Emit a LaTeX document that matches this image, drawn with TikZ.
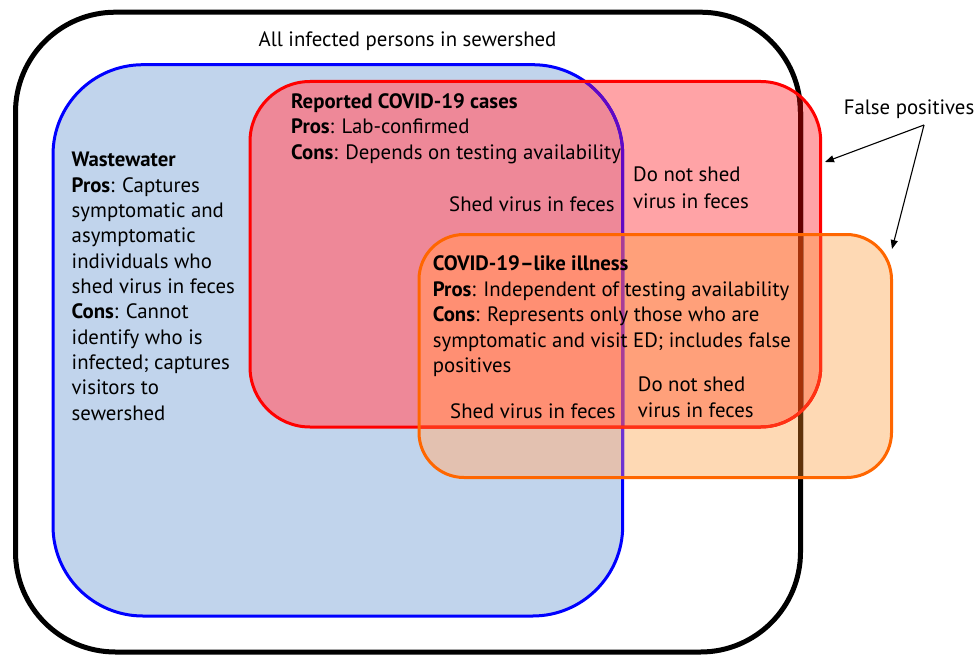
\documentclass[tikz,border=0pt]{standalone}
\usepackage{fontspec}
\setmainfont{PT Sans}
\usetikzlibrary{arrows.meta}
% region fills
\definecolor{wwblue}{RGB}{193,212,236}
\definecolor{redonly}{RGB}{255,163,166}
\definecolor{redblue}{RGB}{238,136,152}
\definecolor{oronly}{RGB}{254,217,180}
\definecolor{orblue}{RGB}{227,193,176}
\definecolor{orred}{RGB}{255,160,122}
\definecolor{orredblue}{RGB}{255,143,115}
% strokes
\definecolor{ostroke}{RGB}{255,102,0}
\definecolor{blkR}{RGB}{100,0,0}
\definecolor{blkO}{RGB}{95,50,10}
\definecolor{blkRO}{RGB}{165,50,10}
\definecolor{bluR}{RGB}{98,8,196}
\definecolor{bluO}{RGB}{110,50,210}
\definecolor{bluRO}{RGB}{168,60,150}
\definecolor{redO}{RGB}{255,50,20}
\begin{document}
\begin{tikzpicture}[x=1pt,y=-1pt,
  txt/.style={anchor=base west, inner sep=0pt, font=\fontsize{20.8}{24}\selectfont},
  obox/.style={rounded corners=100pt},
  bbox/.style={rounded corners=90pt},
  rbox/.style={rounded corners=60pt},
  gbox/.style={rounded corners=45pt},
  fparrow/.style={-{Triangle[length=9pt,width=7pt]}, line width=1.1pt}]
\useasboundingbox (0,0) rectangle (976,655);
\coordinate (oTL) at (15.5,12.2);  \coordinate (oBR) at (800.5,652);
\coordinate (bTL) at (53,64.7);    \coordinate (bBR) at (622.7,616);
\coordinate (rTL) at (250,81.5);   \coordinate (rBR) at (820.7,427);
\coordinate (gTL) at (419,234.5);  \coordinate (gBR) at (891.5,477.5);

% ---- fills ----
\fill[wwblue, bbox] (bTL) rectangle (bBR);
\fill[redonly, rbox] (rTL) rectangle (rBR);
\begin{scope}
  \clip[rbox] (rTL) rectangle (rBR);
  \fill[redblue, bbox] (bTL) rectangle (bBR);
\end{scope}
\fill[oronly, gbox] (gTL) rectangle (gBR);
\begin{scope}
  \clip[gbox] (gTL) rectangle (gBR);
  \fill[orblue, bbox] (bTL) rectangle (bBR);
  \fill[orred, rbox] (rTL) rectangle (rBR);
  \begin{scope}
    \clip[bbox] (bTL) rectangle (bBR);
    \fill[orredblue, rbox] (rTL) rectangle (rBR);
  \end{scope}
\end{scope}

% ---- strokes ----
\draw[line width=5pt, obox] (oTL) rectangle (oBR);
\draw[blue, line width=3pt, bbox] (bTL) rectangle (bBR);
\begin{scope}
  \clip[rbox] (rTL) rectangle (rBR);
  \draw[blkR, line width=5pt, obox] (oTL) rectangle (oBR);
  \draw[bluR, line width=3pt, bbox] (bTL) rectangle (bBR);
\end{scope}
\begin{scope}
  \clip[gbox] (gTL) rectangle (gBR);
  \draw[blkO, line width=5pt, obox] (oTL) rectangle (oBR);
  \draw[bluO, line width=3pt, bbox] (bTL) rectangle (bBR);
  \begin{scope}
    \clip[rbox] (rTL) rectangle (rBR);
    \draw[blkRO, line width=5pt, obox] (oTL) rectangle (oBR);
    \draw[bluRO, line width=3pt, bbox] (bTL) rectangle (bBR);
  \end{scope}
\end{scope}
\draw[red, line width=3pt, rbox] (rTL) rectangle (rBR);
\begin{scope}
  \clip[gbox] (gTL) rectangle (gBR);
  \draw[redO, line width=3pt, rbox] (rTL) rectangle (rBR);
\end{scope}
\draw[ostroke, line width=3pt, gbox] (gTL) rectangle (gBR);

% ---- texts ----
\node[txt, anchor=base] (all) at (407.5,46.7) {All infected persons in sewershed};

\foreach \t [count=\i] in {{\textbf{Wastewater}},{\textbf{Pros}: Captures},symptomatic and,asymptomatic,individuals who,shed virus in feces,{\textbf{Cons}: Cannot},identify who is,infected; captures,visitors to,sewershed}
  \node[txt] (ww\i) at (71.5,{166.7+25.33*(\i-1)}) {\t};

\foreach \t [count=\i] in {{\textbf{Reported COVID-19 cases}},{\textbf{Pros}: Lab-confirmed},{\textbf{Cons}: Depends on testing availability}}
  \node[txt] (rc\i) at (291,{108.3+25.6*(\i-1)}) {\t};

\foreach \t [count=\i] in {{\textbf{COVID-19--like illness}},{\textbf{Pros}: Independent of testing availability},{\textbf{Cons}: Represents only those who are},symptomatic and visit ED; includes false,positives}
  \node[txt] (cl\i) at (432.7,{270.7+25.5*(\i-1)}) {\t};

\node[txt] (shedA) at (449,211.7) {Shed virus in feces};
\node[txt] (noshedA1) at (633,181.7) {Do not shed};
\node[txt] (noshedA2) at (633,208.3) {virus in feces};
\node[txt] (shedB) at (450,418) {Shed virus in feces};
\node[txt] (noshedB1) at (637.7,391.7) {Do not shed};
\node[txt] (noshedB2) at (637.7,417.3) {virus in feces};

\node[txt, anchor=base] (fp) at (909,115) {False positives};
\coordinate (fpa) at (924,125);
\coordinate (fpr) at (825,162);
\coordinate (fpo) at (892,249);
\draw[fparrow] (fpa) -- (fpr);
\draw[fparrow] (fpa) -- (fpo);
\end{tikzpicture}
\end{document}
